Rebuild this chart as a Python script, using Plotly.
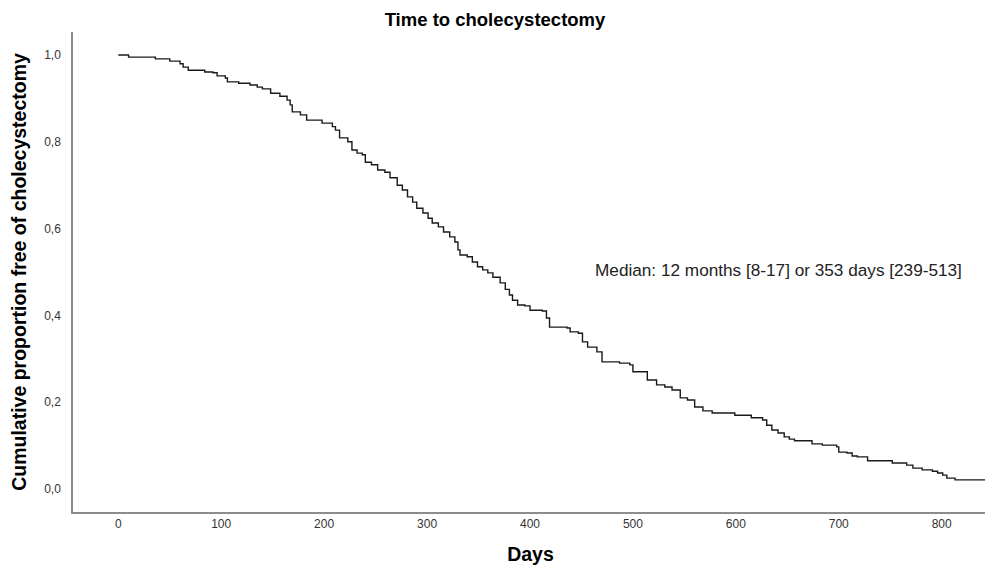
import plotly.graph_objects as go

# Kaplan-Meier estimate (day of step, survival after step)
days = [0, 10, 36, 50, 60, 63, 68, 84, 92, 96, 104, 106, 117, 128, 135, 140, 148, 157, 164, 167,
        169, 177, 183, 198, 208, 211, 215, 223, 227, 232, 237, 240, 246, 252, 259, 264, 271, 276,
        281, 286, 290, 296, 301, 305, 311, 316, 322, 327, 330, 332, 339, 344, 349, 354, 359, 364,
        371, 376, 380, 383, 388, 395, 400, 412, 416, 419, 436, 439, 447, 451, 456, 465, 470, 487,
        497, 500, 514, 523, 531, 538, 546, 553, 560, 568, 577, 599, 615, 626, 630, 635, 641, 647,
        652, 657, 674, 684, 698, 700, 708, 713, 718, 728, 752, 766, 772, 781, 791, 796, 801, 805,
        813, 845]
survival = [1.000, 0.995, 0.991, 0.986, 0.980, 0.972, 0.965, 0.961, 0.959, 0.952, 0.947, 0.938,
            0.935, 0.931, 0.926, 0.922, 0.912, 0.905, 0.896, 0.885, 0.869, 0.862, 0.850, 0.843,
            0.835, 0.827, 0.809, 0.800, 0.781, 0.774, 0.770, 0.753, 0.747, 0.735, 0.730, 0.717,
            0.700, 0.689, 0.673, 0.661, 0.647, 0.636, 0.624, 0.613, 0.604, 0.592, 0.581, 0.569,
            0.551, 0.539, 0.535, 0.523, 0.512, 0.505, 0.498, 0.488, 0.475, 0.460, 0.447, 0.435,
            0.424, 0.422, 0.412, 0.410, 0.394, 0.373, 0.371, 0.362, 0.359, 0.339, 0.327, 0.316,
            0.293, 0.290, 0.286, 0.270, 0.251, 0.240, 0.235, 0.228, 0.210, 0.205, 0.189, 0.180,
            0.175, 0.170, 0.164, 0.159, 0.147, 0.136, 0.129, 0.120, 0.115, 0.111, 0.104, 0.101,
            0.097, 0.085, 0.083, 0.076, 0.074, 0.065, 0.060, 0.055, 0.048, 0.044, 0.041, 0.037,
            0.032, 0.025, 0.021, 0.021]

x_ticks = [0, 100, 200, 300, 400, 500, 600, 700, 800]
y_ticks = [0.0, 0.2, 0.4, 0.6, 0.8, 1.0]
y_ticklabels = ["0,0", "0,2", "0,4", "0,6", "0,8", "1,0"]

title_text = "Time to cholecystectomy"
x_title = "Days"
y_title = "Cumulative proportion free of cholecystectomy"
median_text = "Median: 12 months [8-17] or 353 days [239-513]"

font_family = "Liberation Sans, Arial, sans-serif"

# the page body adds an 8px offset, so the figure is sized to fit the window exactly
W, H = 985, 557

fig = go.Figure()
fig.add_trace(go.Scatter(
    x=days, y=survival, mode="lines", line_shape="hv",
    line=dict(color="#1a1a1a", width=1.4), showlegend=False, hoverinfo="skip"))

fig.update_layout(
    width=W, height=H,
    margin=dict(l=65, r=5, t=24, b=53, autoexpand=False),
    paper_bgcolor="white", plot_bgcolor="white",
    font=dict(family=font_family, color="#222222"),
    title=dict(text="<b>" + title_text + "</b>", x=487 / W, xanchor="center",
               y=1 - 12 / H, yanchor="middle", font=dict(size=18.5, color="#000000")),
)
fig.update_xaxes(
    range=[-44, 845], tickvals=x_ticks, ticktext=[str(v) for v in x_ticks],
    showgrid=False, zeroline=False, showline=True, linecolor="#8c8c8c", linewidth=1.5,
    ticks="", tickfont=dict(size=12, color="#333333"), automargin=False,
    title=dict(text="<b>" + x_title + "</b>", font=dict(size=19.5, color="#000000"), standoff=18),
)
fig.update_yaxes(
    range=[-0.053, 1.053], tickvals=y_ticks, ticktext=y_ticklabels,
    showgrid=False, zeroline=False, showline=True, linecolor="#8c8c8c", linewidth=1.5,
    ticks="", tickfont=dict(size=12, color="#333333"), ticklabelstandoff=8, automargin=False,
    title=dict(text="<b>" + y_title + "</b>", font=dict(size=19.5, color="#000000"), standoff=12),
)
fig.add_annotation(
    text=median_text, xref="paper", yref="paper", x=(778 - 73) / 915, y=(512 - 270) / 480,
    xanchor="center", yanchor="middle", showarrow=False,
    font=dict(size=17.2, color="#222222", family=font_family))

fig.write_html("out.html")
